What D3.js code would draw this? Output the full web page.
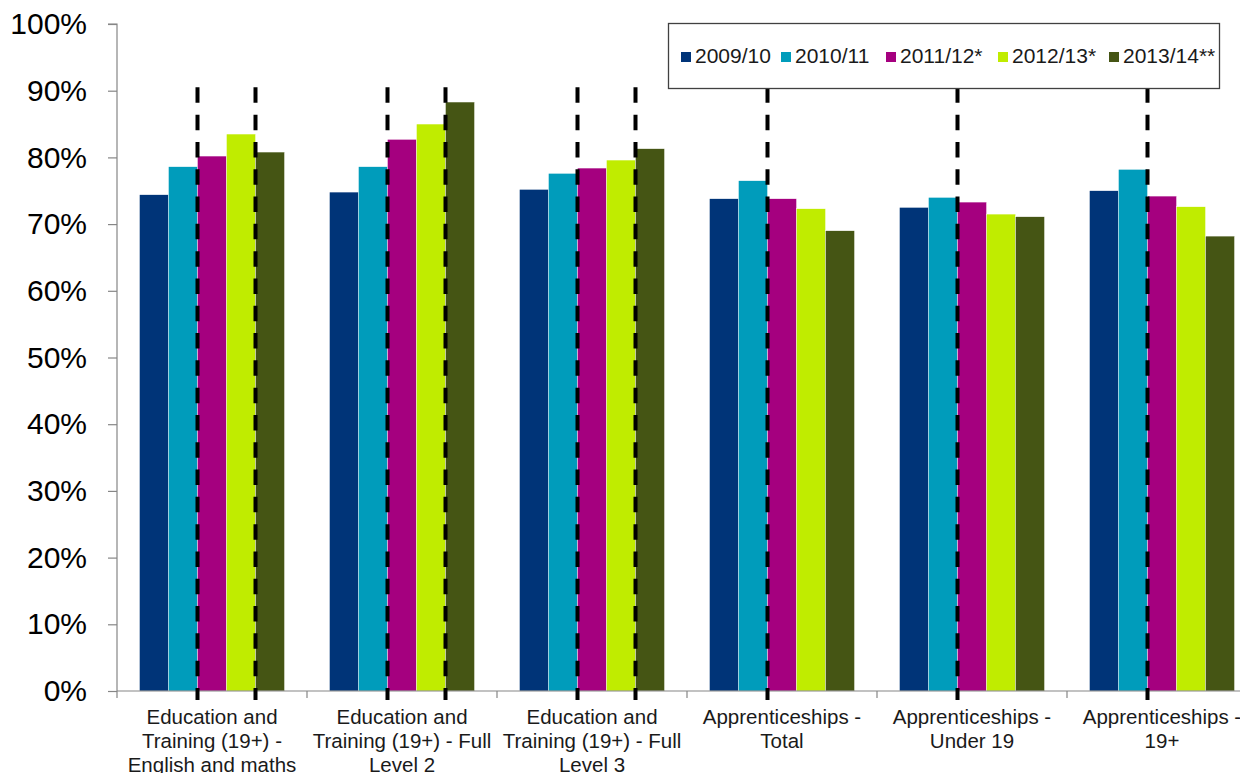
<!DOCTYPE html>
<html>
<head>
<meta charset="utf-8">
<script src="https://cdn.jsdelivr.net/npm/d3@7/dist/d3.min.js"></script>
<style>
  html, body { margin: 0; padding: 0; background: #fff; }
  svg { display: block; font-family: "Liberation Sans", Arial, sans-serif; }
</style>
</head>
<body>
<svg id="chart" width="1240" height="773"></svg>
<script>
// ---- data ----
const categories = [
  "Education and Training (19+) - English and maths",
  "Education and Training (19+) - Full Level 2",
  "Education and Training (19+) - Full Level 3",
  "Apprenticeships - Total",
  "Apprenticeships - Under 19",
  "Apprenticeships - 19+"
];
const categoryLines = [
  ["Education and", "Training (19+) -", "English and maths"],
  ["Education and", "Training (19+) - Full", "Level 2"],
  ["Education and", "Training (19+) - Full", "Level 3"],
  ["Apprenticeships -", "Total"],
  ["Apprenticeships -", "Under 19"],
  ["Apprenticeships -", "19+"]
];
const seriesNames = ["2009/10", "2010/11", "2011/12*", "2012/13*", "2013/14**"];
const s2009 = [0.744, 0.748, 0.752, 0.738, 0.725, 0.750];
const s2010 = [0.786, 0.786, 0.776, 0.765, 0.740, 0.782];
const s2011 = [0.802, 0.827, 0.784, 0.738, 0.733, 0.742];
const s2012 = [0.835, 0.850, 0.796, 0.723, 0.715, 0.726];
const s2013 = [0.808, 0.883, 0.813, 0.690, 0.711, 0.682];
const seriesValues = [s2009, s2010, s2011, s2012, s2013];
const colors = ["#003478", "#009cbb", "#a5007f", "#c0ec00", "#455514"];
const yTicks = [0, 0.1, 0.2, 0.3, 0.4, 0.5, 0.6, 0.7, 0.8, 0.9, 1.0];
// dashed separators: boundaries after these series indices (break in series)
const dashBreaks = [[2, 4], [2, 4], [2, 4], [2], [2], [2]];

// ---- layout ----
const svg = d3.select("#chart");
const mLeft = 117, mTop = 24, mBottom = 691;
const catWidth = 190;
const mRight = mLeft + catWidth * categories.length;

const x0 = d3.scaleBand().domain(categories).range([mLeft, mRight]).padding(0);
const x1 = d3.scaleBand().domain(seriesNames).range([22.5, catWidth - 22.5]).padding(0);
const y = d3.scaleLinear().domain([0, 1]).range([mBottom, mTop]);

const rows = [];
categories.forEach((c, ci) => {
  seriesNames.forEach((s, si) => rows.push({ c, s, si, v: seriesValues[si][ci] }));
});

// bars
svg.append("g").selectAll("rect").data(rows).join("rect")
  .attr("x", d => x0(d.c) + x1(d.s))
  .attr("y", d => y(d.v))
  .attr("width", x1.bandwidth())
  .attr("height", d => y(0) - y(d.v))
  .attr("fill", d => colors[d.si])
  .attr("stroke", "#ffffff")
  .attr("stroke-width", 0.4);

// y axis
const yAxis = d3.axisLeft(y).tickValues(yTicks).tickFormat(d3.format(".0%")).tickSize(9).tickPadding(21);
const gy = svg.append("g").attr("transform", `translate(${mLeft},0)`).call(yAxis);
gy.select(".domain").attr("stroke", "#868686").attr("stroke-width", 1.2).attr("d", `M-9,${mTop}H0V${mBottom}`);
gy.selectAll(".tick line").attr("stroke", "#868686").attr("stroke-width", 1.2);
gy.selectAll(".tick text").attr("font-size", 30).attr("fill", "#000").attr("font-family", '"Liberation Sans", Arial, sans-serif');

// x axis
const gx = svg.append("g").attr("transform", `translate(0,${mBottom})`);
gx.append("line").attr("x1", mLeft).attr("x2", mRight).attr("y1", 0).attr("y2", 0)
  .attr("stroke", "#868686").attr("stroke-width", 1.2);
const boundaries = categories.map(c => x0(c)).concat([mRight]);
gx.selectAll("line.tk").data(boundaries).join("line").attr("class", "tk")
  .attr("x1", d => d).attr("x2", d => d).attr("y1", 0).attr("y2", 7)
  .attr("stroke", "#868686").attr("stroke-width", 1.2);
const labels = gx.selectAll("text.cl").data(categories).join("text").attr("class", "cl")
  .attr("x", c => x0(c) + x0.bandwidth() / 2)
  .attr("text-anchor", "middle")
  .attr("font-size", 20.5).attr("fill", "#1a1a1a");
labels.each(function(c, i) {
  d3.select(this).selectAll("tspan").data(categoryLines[i]).join("tspan")
    .attr("x", x0(c) + x0.bandwidth() / 2)
    .attr("y", (d, j) => 33 + j * 24)
    .text(d => d);
});

// dashed separators
const dashes = [];
categories.forEach((c, ci) => {
  dashBreaks[ci].forEach(si => dashes.push({ x: x0(c) + x1(seriesNames[si]) }));
});
svg.append("g").selectAll("line").data(dashes).join("line")
  .attr("x1", d => d.x).attr("x2", d => d.x)
  .attr("y1", y(0.905)).attr("y2", mBottom + 9)
  .attr("stroke", "#000").attr("stroke-width", 4)
  .attr("stroke-dasharray", "15.5,11.8");

// legend
const lg = svg.append("g");
lg.append("rect").attr("x", 668.5).attr("y", 23.5).attr("width", 551).attr("height", 65)
  .attr("fill", "#fff").attr("stroke", "#404040").attr("stroke-width", 1.3);
const legendX = [681, 781, 886, 998, 1109];
const li = lg.selectAll("g.li").data(seriesNames).join("g").attr("class", "li")
  .attr("transform", (d, i) => `translate(${legendX[i]},0)`);
li.append("rect").attr("x", 0).attr("y", 52).attr("width", 10).attr("height", 10)
  .attr("fill", (d, i) => colors[i]);
li.append("text").attr("x", 14).attr("y", 63).attr("font-size", 21).attr("fill", "#1a1a1a").text(d => d);
</script>
</body>
</html>
